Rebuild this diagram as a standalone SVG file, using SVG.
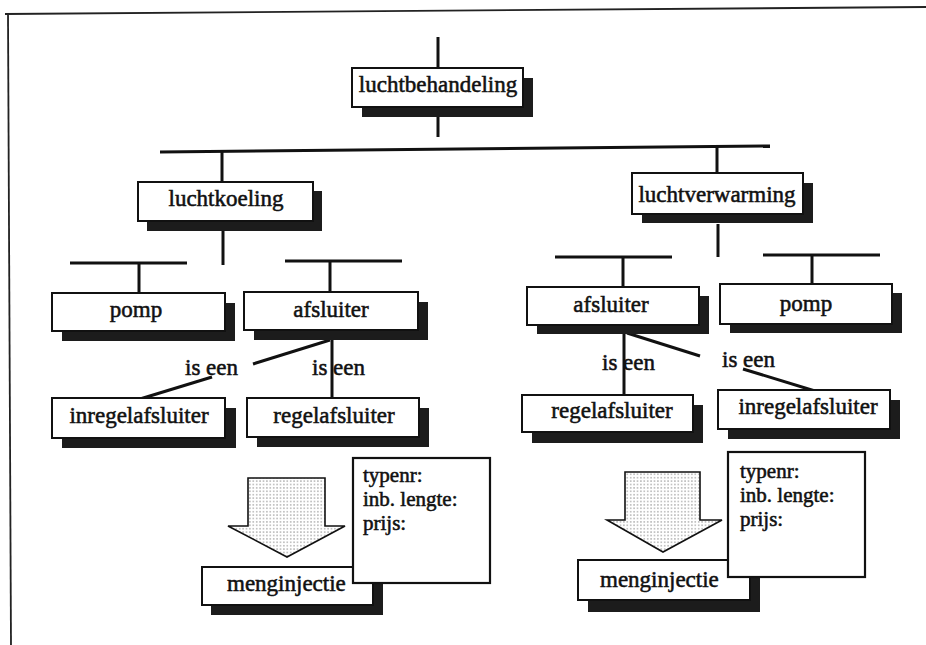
<svg xmlns="http://www.w3.org/2000/svg" width="926" height="645" viewBox="0 0 926 645">
  <style>
    .frame { stroke: #222; stroke-width: 1.8; fill: none; }
    .conn { stroke: #111; stroke-width: 3; fill: none; stroke-linecap: butt; }
    .shadow { fill: #1c1c1c; }
    .box { fill: #fff; stroke: #111; stroke-width: 2; }
    .info { fill: #fff; stroke: #111; stroke-width: 2.2; }
    .lbl { font-family: "Liberation Serif", "Times New Roman", serif; font-size: 23px; fill: #111; stroke: #111; stroke-width: 0.55; }
    .attr { font-size: 21px; }
    .mid { text-anchor: middle; }
    .arrow { fill: url(#dots); stroke: #111; stroke-width: 1.6; stroke-linejoin: miter; }
  </style>
  <defs>
    <pattern id="dots" width="3.4" height="3.4" patternUnits="userSpaceOnUse">
      <rect width="3.4" height="3.4" fill="#fff"/>
      <circle cx="1.7" cy="1.7" r="0.7" fill="#777"/>
    </pattern>
  </defs>

  <rect width="926" height="645" fill="#fff"/>

  <!-- page frame -->
  <g id="frame">
    <line class="frame" x1="5" y1="14" x2="926" y2="7"/>
    <line class="frame" x1="8" y1="14" x2="11" y2="645"/>
  </g>

  <!-- tree connectors and "is een" relations -->
  <g id="connectors">
    <line class="conn" x1="438" y1="37" x2="438" y2="68"/>
    <line class="conn" x1="438" y1="117" x2="438" y2="137"/>
    <line class="conn" x1="160" y1="152" x2="770" y2="146"/>
    <line class="conn" x1="222" y1="151" x2="222" y2="182"/>
    <line class="conn" x1="717" y1="147" x2="717" y2="173"/>
    <line class="conn" x1="223" y1="231" x2="223" y2="265"/>
    <line class="conn" x1="718" y1="224" x2="718" y2="257"/>

    <line class="conn" x1="70" y1="263" x2="187" y2="263"/>
    <line class="conn" x1="139" y1="263" x2="139" y2="293"/>
    <line class="conn" x1="285" y1="261" x2="402" y2="261"/>
    <line class="conn" x1="330" y1="261" x2="330" y2="292"/>
    <line class="conn" x1="555" y1="257" x2="672" y2="257"/>
    <line class="conn" x1="623" y1="257" x2="623" y2="287"/>
    <line class="conn" x1="763" y1="255" x2="880" y2="255"/>
    <line class="conn" x1="812" y1="255" x2="812" y2="284"/>

    <!-- afsluiter (left) specialisations -->
    <line class="conn" x1="330" y1="340" x2="253" y2="364"/>
    <line class="conn" x1="212" y1="377" x2="140" y2="399"/>
    <text class="lbl" x="185" y="375">is een</text>
    <line class="conn" x1="332" y1="340" x2="332" y2="398"/>
    <text class="lbl" x="312" y="375">is een</text>

    <!-- afsluiter (right) specialisations -->
    <line class="conn" x1="624" y1="334" x2="624" y2="395"/>
    <text class="lbl" x="602" y="370">is een</text>
    <line class="conn" x1="627" y1="333" x2="700" y2="356"/>
    <line class="conn" x1="743" y1="369" x2="815" y2="391"/>
    <text class="lbl" x="722" y="367">is een</text>
  </g>

  <g id="luchtbehandeling">
    <rect class="shadow" x="362" y="78" width="171" height="39"/>
    <rect class="box" x="352" y="68" width="171" height="39"/>
    <text class="lbl mid" x="438" y="92">luchtbehandeling</text>
  </g>

  <g id="luchtkoeling">
    <rect class="shadow" x="147" y="191" width="175" height="40"/>
    <rect class="box" x="138" y="182" width="175" height="39"/>
    <text class="lbl mid" x="226" y="206">luchtkoeling</text>
  </g>

  <g id="luchtverwarming">
    <rect class="shadow" x="642" y="183" width="171" height="40"/>
    <rect class="box" x="632" y="173" width="171" height="41"/>
    <text class="lbl mid" x="717" y="202">luchtverwarming</text>
  </g>

  <g id="pomp-koeling">
    <rect class="shadow" x="62" y="303" width="173" height="38"/>
    <rect class="box" x="52" y="293" width="173" height="38"/>
    <text class="lbl mid" x="136" y="317">pomp</text>
  </g>

  <g id="afsluiter-koeling">
    <rect class="shadow" x="254" y="302" width="174" height="38"/>
    <rect class="box" x="244" y="292" width="174" height="38"/>
    <text class="lbl mid" x="331" y="317">afsluiter</text>
  </g>

  <g id="afsluiter-verwarming">
    <rect class="shadow" x="537" y="296" width="172" height="38"/>
    <rect class="box" x="527" y="287" width="172" height="38"/>
    <text class="lbl mid" x="611" y="312">afsluiter</text>
  </g>

  <g id="pomp-verwarming">
    <rect class="shadow" x="730" y="293" width="172" height="40"/>
    <rect class="box" x="720" y="284" width="172" height="40"/>
    <text class="lbl mid" x="806" y="311">pomp</text>
  </g>

  <g id="inregelafsluiter-koeling">
    <rect class="shadow" x="62" y="408" width="174" height="40"/>
    <rect class="box" x="52" y="398" width="173" height="40"/>
    <text class="lbl mid" x="139" y="423">inregelafsluiter</text>
  </g>

  <g id="regelafsluiter-koeling">
    <rect class="shadow" x="257" y="408" width="172" height="39"/>
    <rect class="box" x="247" y="398" width="172" height="39"/>
    <text class="lbl mid" x="334" y="423">regelafsluiter</text>
  </g>

  <g id="regelafsluiter-verwarming">
    <rect class="shadow" x="532" y="405" width="171" height="38"/>
    <rect class="box" x="522" y="395" width="171" height="37"/>
    <text class="lbl mid" x="612" y="418">regelafsluiter</text>
  </g>

  <g id="inregelafsluiter-verwarming">
    <rect class="shadow" x="728" y="400" width="172" height="39"/>
    <rect class="box" x="718" y="390" width="172" height="39"/>
    <text class="lbl mid" x="808" y="414">inregelafsluiter</text>
  </g>

  <!-- derivation arrows -->
  <g id="arrow-koeling">
    <polygon class="arrow" points="248,478 325,478 325,526 345,526 287,557 228,526 248,526"/>
  </g>
  <g id="arrow-verwarming">
    <polygon class="arrow" points="625,472 700,472 700,520 722,520 663,552 607,520 625,520"/>
  </g>

  <g id="menginjectie-koeling">
    <rect class="shadow" x="211" y="577" width="172" height="38"/>
    <rect class="box" x="202" y="567" width="171" height="38"/>
    <text class="lbl" x="227" y="591">menginjectie</text>
  </g>

  <g id="menginjectie-verwarming">
    <rect class="shadow" x="588" y="571" width="172" height="41"/>
    <rect class="box" x="578" y="560" width="172" height="40"/>
    <text class="lbl" x="600" y="587">menginjectie</text>
  </g>

  <g id="kenmerken-koeling">
    <rect class="info" x="353" y="458" width="137" height="125"/>
    <text class="lbl attr" x="363" y="482">typenr:</text>
    <text class="lbl attr" x="363" y="506">inb. lengte:</text>
    <text class="lbl attr" x="363" y="530">prijs:</text>
  </g>

  <g id="kenmerken-verwarming">
    <rect class="info" x="728" y="452" width="137" height="125"/>
    <text class="lbl attr" x="740" y="478">typenr:</text>
    <text class="lbl attr" x="740" y="502">inb. lengte:</text>
    <text class="lbl attr" x="740" y="526">prijs:</text>
  </g>
</svg>
